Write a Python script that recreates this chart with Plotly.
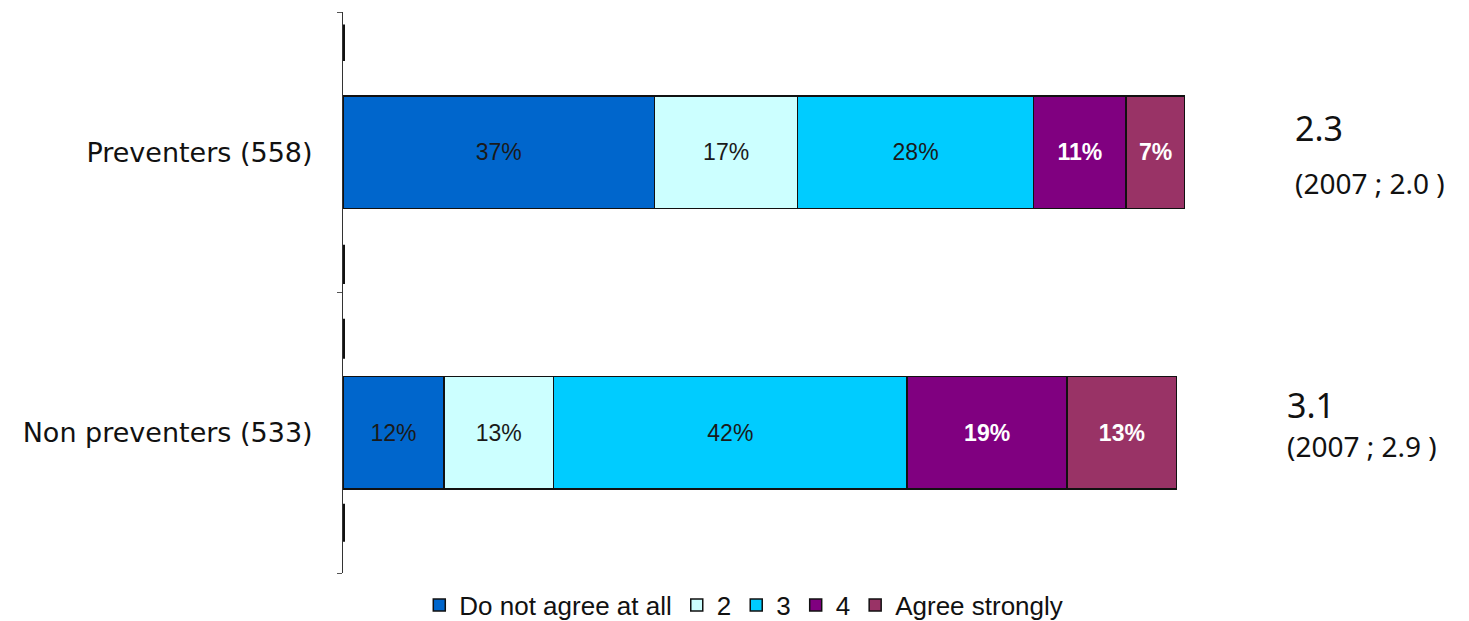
import plotly.graph_objects as go

# data
groups = ['Non preventers (533)', 'Preventers (558)']
series = ['Do not agree at all', '2', '3', '4', 'Agree strongly']
values = {
    'Do not agree at all': [12, 37],
    '2': [13, 17],
    '3': [42, 28],
    '4': [19, 11],
    'Agree strongly': [13, 7],
}
means = [3.1, 2.3]
means_2007 = [2.9, 2.0]

colors = ['#0066CC', '#CCFFFF', '#00CCFF', '#800080', '#993366']
text_colors = ['#1a1a1a', '#1a1a1a', '#1a1a1a', 'white', 'white']

fig = go.Figure()
for name, col, tcol in zip(series, colors, text_colors):
    fig.add_trace(go.Bar(
        y=groups, x=values[name], name=name, orientation='h',
        marker=dict(color=col, line=dict(color='#111111', width=1.5)),
        text=[f'{v}%' for v in values[name]],
        textposition='inside', insidetextanchor='middle',
        textfont=dict(family='Liberation Sans, Arial', size=23, color=tcol,
                      weight='bold' if tcol == 'white' else 'normal'),
        width=0.4,
    ))

# mean scores on the right
ann_x = [1.119, 1.128]
ann_y_main = [0.300, 0.793]
ann_y_sub = [0.227, 0.695]
for i in range(len(groups)):
    fig.add_annotation(x=ann_x[i], y=ann_y_main[i], xref='paper', yref='paper',
                       xanchor='left', yanchor='middle', showarrow=False,
                       text=f'{means[i]:.1f}',
                       font=dict(family='Noto Sans', size=34, color='#111111'))
    fig.add_annotation(x=ann_x[i], y=ann_y_sub[i], xref='paper', yref='paper',
                       xanchor='left', yanchor='middle', showarrow=False,
                       text=f'(2007 ; {means_2007[i]:.1f} )',
                       font=dict(family='Noto Sans', size=28, color='#111111'))

# thick dark marks on the axis line
marks = [(1.325, 1.455), (0.53, 0.67), (0.264, 0.406), (-0.389, -0.253)]
for y0, y1 in marks:
    fig.add_shape(type='line', xref='x', yref='y', x0=0, x1=0, y0=y0, y1=y1,
                  line=dict(color='#111111', width=4))

# page body adds an 8px offset, so the figure is a bit smaller
fig.update_layout(
    width=1461, height=613,
    barmode='stack',
    plot_bgcolor='white', paper_bgcolor='white',
    margin=dict(l=335, r=284, t=4, b=48, autoexpand=False),
    xaxis=dict(range=[0, 100], visible=False),
    yaxis=dict(range=[-0.5, 1.5], showline=True, linecolor='#333333', linewidth=1,
               ticks='outside', tickson='boundaries', ticklen=5, tickcolor='#555555',
               ticklabelstandoff=24, automargin=False,
               tickfont=dict(family='DejaVu Sans', size=27, color='#111111'),
               showgrid=False, zeroline=False),
    legend=dict(orientation='h', x=0.476, xanchor='center', y=-0.057, yanchor='middle',
                font=dict(family='Liberation Sans, Arial', size=26, color='#111111'),
                traceorder='normal', itemwidth=30),
    showlegend=True,
)

fig.write_html('out.html')
